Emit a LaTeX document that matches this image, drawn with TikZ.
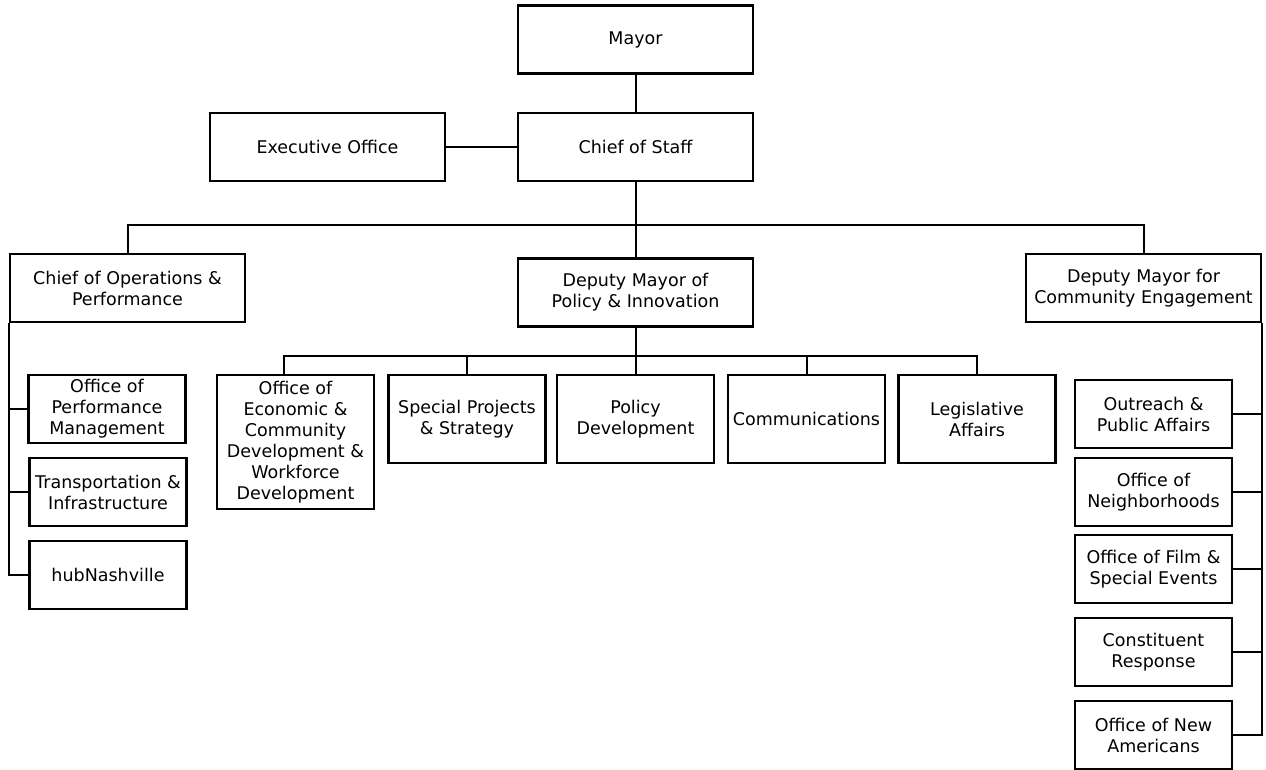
\documentclass[tikz,border=0pt]{standalone}
\usepackage{fontspec}
\setmainfont{DejaVu Sans}
\usetikzlibrary{positioning, calc}

\begin{document}
\begin{tikzpicture}[x=1pt, y=-1pt,
      unit/.style = {shape=rectangle, draw, line width=2.6pt, align=center,
        inner sep=2pt, minimum width=235pt, minimum height=68pt,
        font=\fontsize{17.5}{21}\selectfont},
      subunit/.style = {unit, minimum width=157pt},
      link/.style = {line width=2pt}]
    \useasboundingbox (0,0) rectangle (1266,769);

    % top of the chart
    \node[unit] (mayor) at (635.5,39.5) {Mayor};
    \node[unit] (cos) at (635.5,147) {Chief of Staff};
    \node[unit] (exec) at (327.5,147) {Executive Office};

    % second level
    \node[unit] (cop) at (127.5,288) {Chief of Operations \&\\ Performance};
    \node[unit] (dmpi) at (635.5,292.5) {Deputy Mayor of\\ Policy \& Innovation};
    \node[unit] (dmce) at (1143.5,288) {Deputy Mayor for\\ Community Engagement};

    % under policy & innovation
    \node[subunit, minimum height=134pt] (oec) at (295.5,442)
      {Office of\\ Economic \&\\ Community\\ Development \&\\ Workforce\\ Development};
    \node[subunit, minimum height=88pt] (sp) at (467,419) {Special Projects\\ \& Strategy};
    \node[subunit, minimum height=88pt] (pd) at (635.5,419) {Policy\\ Development};
    \node[subunit, minimum height=88pt] (comm) at (806.5,419) {Communications};
    \node[subunit, minimum height=88pt] (leg) at (977,419) {Legislative\\ Affairs};

    % under operations & performance
    \node[subunit] (opm) at (107,409) {Office of\\ Performance\\ Management};
    \node[subunit] (tran) at (108,492) {Transportation \&\\ Infrastructure};
    \node[subunit] (hub) at (108,575) {hubNashville};

    % under community engagement
    \node[subunit] (out) at (1153.5,414) {Outreach \&\\ Public Affairs};
    \node[subunit] (nbh) at (1153.5,492) {Office of\\ Neighborhoods};
    \node[subunit] (film) at (1153.5,569) {Office of Film \&\\ Special Events};
    \node[subunit] (const) at (1153.5,652) {Constituent\\ Response};
    \node[subunit] (newam) at (1153.5,735) {Office of New\\ Americans};

    \coordinate (bus) at (0,225);
    \coordinate (pbus) at (0,356);

    \draw[link] (mayor) -- (cos);
    \draw[link] (exec) -- (cos);
    \draw[link] (cos) -- (dmpi);
    \draw[link] (cop.north) |- (dmce.north |- bus) -- (dmce.north);

    \draw[link] (dmpi.south) -- (dmpi.south |- pbus);
    \draw[link] ([xshift=-12pt]oec.north) |- (leg.north |- pbus) -- (leg.north);
    \foreach \n in {sp, pd, comm}
      \draw[link] (\n.north) -- (\n.north |- pbus);

    \draw[link] (cop.south west) |- (hub.west);
    \foreach \n in {opm, tran}
      \draw[link] (\n.west) -- (\n.west -| cop.south west);

    \draw[link] (dmce.south east) |- (newam.east);
    \foreach \n in {out, nbh, film, const}
      \draw[link] (\n.east) -- (\n.east -| dmce.south east);
\end{tikzpicture}
\end{document}
